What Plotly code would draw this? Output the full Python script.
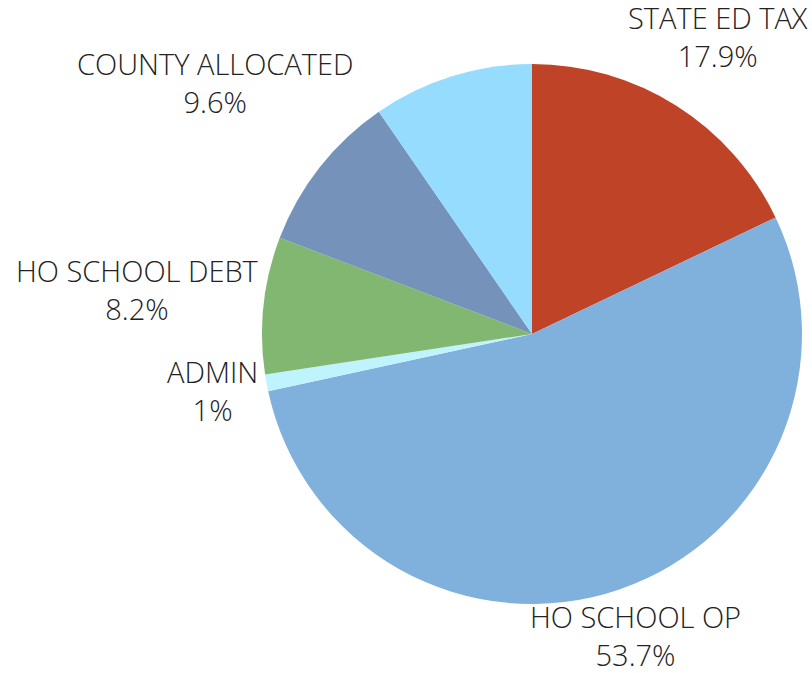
import math
import plotly.graph_objects as go

# ---- data ----
labels = ["STATE ED TAX", "HO SCHOOL OP", "ADMIN", "HO SCHOOL DEBT", "COUNTY ALLOCATED", "OTHER"]
values = [17.9, 53.7, 1.0, 8.2, 9.6, 9.6]
show_label = [True, True, True, True, True, False]
colors = ["#BE4327", "#80B0DC", "#BFF4FF", "#82B771", "#7492BA", "#96DCFF"]

# ---- geometry / style ----
W, H = 812, 673
CX, CY, R = 532, 334, 270
FONT_SIZE = 29
GAP = 3
HALF_H = 33
TEXT_COLOR = "#222222"

# approximate Open Sans advance widths (per 1000 em) for label box estimation
CW = {"S": 549, "T": 556, "A": 633, "E": 556, "D": 712, "X": 575, " ": 260,
      "H": 738, "O": 779, "C": 631, "L": 519, "P": 603, "B": 647, "M": 907,
      "I": 279, "N": 754, "U": 738, "Y": 556, ".": 266, "%": 846}


def text_width(s):
    return sum(CW.get(ch, 572) for ch in s) * FONT_SIZE / 1000.0 * 0.98


total = sum(values)
fig = go.Figure(go.Pie(
    labels=labels,
    values=values,
    sort=False,
    direction="clockwise",
    rotation=0,
    marker=dict(colors=colors, line=dict(width=0)),
    textinfo="none",
    showlegend=False,
    domain=dict(x=[(CX - R) / W, (CX + R) / W], y=[(H - CY - R) / H, (H - CY + R) / H]),
))

annotations = []
start = 0.0
for lab, v, show in zip(labels, values, show_label):
    mid = (start + v / 2) / total * 2 * math.pi
    start += v
    if not show:
        continue
    pct = f"{round(v / total * 100, 1):g}%"
    a = max(text_width(lab), text_width(pct)) / 2
    ux, uy = math.sin(mid), -math.cos(mid)
    d = R + GAP + a * abs(ux) + HALF_H * abs(uy)
    cx, cy = CX + d * ux, CY + d * uy
    # keep the label inside the canvas, sliding it along its ray
    if cy + HALF_H > H - 3 and uy > 0:
        d = (H - 3 - HALF_H - CY) / uy
    if cy - HALF_H < 3 and uy < 0:
        d = (3 + HALF_H - CY) / uy
    cx, cy = CX + d * ux, CY + d * uy
    annotations.append(dict(
        x=cx / W, y=1 - cy / H, xref="paper", yref="paper",
        xanchor="center", yanchor="middle", showarrow=False, align="center",
        yshift=2,
        text=f"{lab}<br>{pct}",
        font=dict(family="Open Sans", size=FONT_SIZE, color=TEXT_COLOR, weight=300),
    ))

fig.update_layout(
    width=W, height=H,
    margin=dict(l=0, r=0, t=0, b=0),
    paper_bgcolor="white",
    plot_bgcolor="white",
    annotations=annotations,
    font=dict(family="Open Sans", size=FONT_SIZE, color=TEXT_COLOR, weight=300),
)

fig.write_html(
    "out.html",
    config={"displayModeBar": False},
    post_script="document.body.style.margin='0';document.body.style.padding='0';",
)
